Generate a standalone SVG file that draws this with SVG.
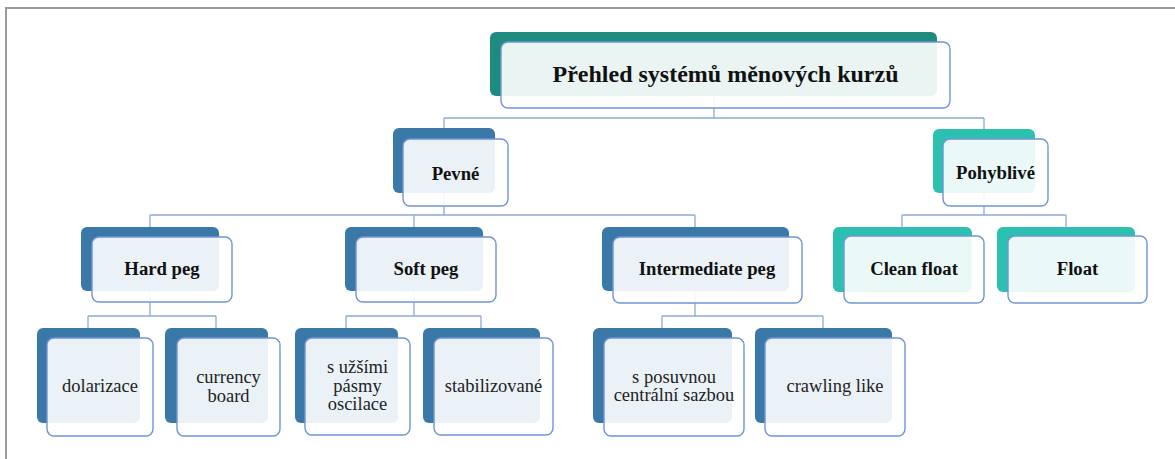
<svg xmlns="http://www.w3.org/2000/svg" width="1175" height="459" viewBox="0 0 1175 459">
<style>
.frame{fill:none;stroke:#9a9a9a;stroke-width:2}
.conn{fill:none;stroke:#8fa9d8;stroke-width:1.3}
.b0{fill:#1f8a80}
.b1{fill:#3a78a8}
.b2{fill:#2bc0b0}
.f{fill:#ffffff;fill-opacity:0.9;stroke:#7094d8;stroke-width:1.4}
.t{font-family:"Liberation Serif","Times New Roman",serif;font-weight:bold;font-size:18.7px;fill:#111;text-anchor:middle}
.tt{font-family:"Liberation Serif","Times New Roman",serif;font-weight:bold;font-size:24px;fill:#111;text-anchor:middle}
.l{font-family:"Liberation Serif","Times New Roman",serif;font-size:18.5px;fill:#222;text-anchor:middle}
</style>
<rect x="0" y="0" width="1175" height="459" fill="#ffffff"/>
<path class="frame" d="M6,459 V8 H1175"/>
<g id="connectors">
<path class="conn" d="M714,96 V118 M444,118 H984 M444,118 V128 M984,118 V129"/>
<path class="conn" d="M444,193 V215 M150,215 H695 M150,215 V227 M414,215 V227 M695,215 V227"/>
<path class="conn" d="M984,193 V215 M902,215 H1066 M902,215 V227 M1066,215 V227"/>
<path class="conn" d="M150,291 V316 M88,316 H216 M88,316 V328 M216,316 V328"/>
<path class="conn" d="M414,291 V316 M346,316 H481 M346,316 V328 M481,316 V328"/>
<path class="conn" d="M695,291 V316 M662,316 H823 M662,316 V328 M823,316 V328"/>
</g>
<g id="title">
<rect class="b0" x="490" y="32" width="447" height="64" rx="6"/>
<rect class="f" x="501" y="42" width="449" height="66" rx="7"/>
<text class="tt" x="725.5" y="82">Přehled systémů měnových kurzů</text>
</g>
<g id="pevne">
<rect class="b1" x="393" y="128" width="102" height="65" rx="6"/>
<rect class="f" x="403" y="139" width="105" height="67" rx="7"/>
<text class="t" x="455.5" y="180">Pevné</text>
</g>
<g id="pohyblive">
<rect class="b2" x="933" y="129" width="102" height="64" rx="6"/>
<rect class="f" x="943" y="139" width="105" height="67" rx="7"/>
<text class="t" x="995.5" y="179">Pohyblivé</text>
</g>
<g id="hardpeg">
<rect class="b1" x="81" y="227" width="138" height="64" rx="6"/>
<rect class="f" x="92" y="237" width="140" height="65" rx="7"/>
<text class="t" x="162" y="275">Hard peg</text>
</g>
<g id="softpeg">
<rect class="b1" x="345" y="227" width="138" height="64" rx="6"/>
<rect class="f" x="356" y="237" width="140" height="65" rx="7"/>
<text class="t" x="426" y="275">Soft peg</text>
</g>
<g id="intermediatepeg">
<rect class="b1" x="602" y="227" width="187" height="64" rx="6"/>
<rect class="f" x="613" y="237" width="189" height="66" rx="7"/>
<text class="t" x="707" y="275">Intermediate peg</text>
</g>
<g id="cleanfloat">
<rect class="b2" x="833" y="227" width="139" height="65" rx="6"/>
<rect class="f" x="844" y="236" width="140" height="67" rx="7"/>
<text class="t" x="914" y="275">Clean float</text>
</g>
<g id="float">
<rect class="b2" x="997" y="227" width="138" height="65" rx="6"/>
<rect class="f" x="1008" y="236" width="139" height="67" rx="7"/>
<text class="t" x="1077.5" y="275">Float</text>
</g>
<g id="dolarizace">
<rect class="b1" x="37" y="328" width="103" height="95" rx="6"/>
<rect class="f" x="47" y="338" width="106" height="98" rx="7"/>
<text class="l" x="100" y="392">dolarizace</text>
</g>
<g id="currencyboard">
<rect class="b1" x="165" y="328" width="103" height="95" rx="6"/>
<rect class="f" x="177" y="338" width="103" height="98" rx="7"/>
<text class="l" x="228.5" y="383">currency</text>
<text class="l" x="228.5" y="402">board</text>
</g>
<g id="uzsimi">
<rect class="b1" x="295" y="328" width="103" height="95" rx="6"/>
<rect class="f" x="305" y="338" width="105" height="97" rx="7"/>
<text class="l" x="357.5" y="373">s užšími</text>
<text class="l" x="357.5" y="391.5">pásmy</text>
<text class="l" x="357.5" y="410">oscilace</text>
</g>
<g id="stabilizovane">
<rect class="b1" x="423" y="328" width="117" height="95" rx="6"/>
<rect class="f" x="434" y="338" width="119" height="97" rx="7"/>
<text class="l" x="493.5" y="392">stabilizované</text>
</g>
<g id="posuvnou">
<rect class="b1" x="593" y="328" width="139" height="95" rx="6"/>
<rect class="f" x="604" y="338" width="140" height="98" rx="7"/>
<text class="l" x="674" y="383">s posuvnou</text>
<text class="l" x="674" y="401">centrální sazbou</text>
</g>
<g id="crawling">
<rect class="b1" x="755" y="328" width="137" height="95" rx="6"/>
<rect class="f" x="765" y="338" width="140" height="98" rx="7"/>
<text class="l" x="835" y="392">crawling like</text>
</g>
</svg>
